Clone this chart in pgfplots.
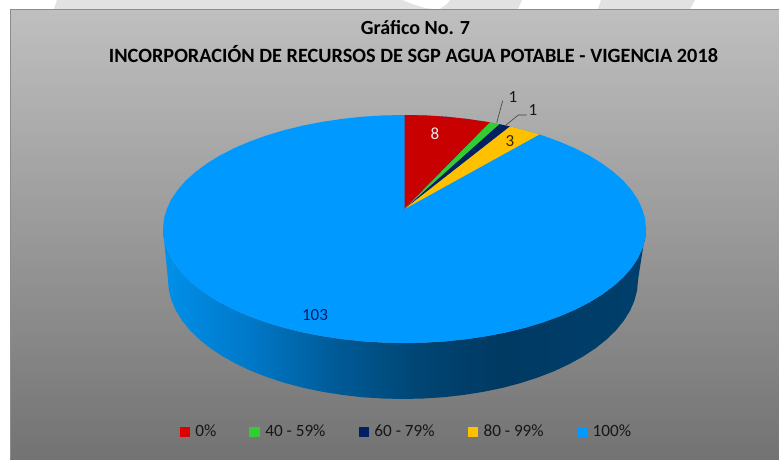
\documentclass[border=0pt]{standalone}
\usepackage{pgfplots}
\pgfplotsset{compat=1.18}
\usepackage{fontspec}
\setmainfont{Carlito}

\definecolor{wm}{HTML}{E2E2E2}
\definecolor{pie0}{HTML}{C80000}
\definecolor{leg0}{HTML}{DC0000}
\definecolor{pie40}{HTML}{33CC33}
\definecolor{pie60}{HTML}{002060}
\definecolor{pie80}{HTML}{FFC000}
\definecolor{pie100}{HTML}{0099FF}
\definecolor{txt}{HTML}{161616}

% rim of the pie, 25bp..75bp is the width of the path
\pgfdeclarehorizontalshading{rim}{100bp}{
  rgb(0bp)=(0,0.565,0.918);
  rgb(25bp)=(0,0.565,0.918);
  rgb(34bp)=(0,0.47,0.784);
  rgb(43bp)=(0,0.353,0.588);
  rgb(52bp)=(0,0.267,0.447);
  rgb(60bp)=(0,0.227,0.388);
  rgb(75bp)=(0,0.247,0.424);
  rgb(100bp)=(0,0.247,0.424)}

\begin{document}
\begin{tikzpicture}
\begin{axis}[
    hide axis,
    scale only axis,
    width=779pt, height=459pt,
    xmin=0, xmax=779,
    ymin=0, ymax=459,
    y dir=reverse,
    legend columns=5,
    legend style={at={(axis cs:179.5,431.5)}, anchor=west, draw=none, fill=none,
      inner sep=0pt, outer sep=0pt, font=\fontsize{17.2pt}{20pt}\selectfont\color{txt},
      /tikz/every even column/.append style={column sep=31pt}},
    legend image code/.code={\fill[#1] (0pt,-4.7pt) rectangle (9.5pt,4.7pt);\path (13.5pt,0pt);},
]
% white page, so the picture keeps its full size
\addplot[forget plot, draw=none, fill=white] coordinates {(0,0) (779,0) (779,459) (0,459)} -- cycle;

% watermark behind the panel
\addplot[forget plot, draw=none, fill=wm] coordinates {
  (54,9) (57,0) (402,0) (415,5) (425,8) (433,9) (440,9) (447,4) (450,0) (522,0) (518,9)
} -- cycle;
\addplot[forget plot, draw=none, fill=wm] coordinates {(598,9) (601,0) (695,0) (690,9)} -- cycle;

% panel
\addplot[forget plot, draw=none, top color=black!25, bottom color=black!55] coordinates {
  (10,9) (779,9) (779,459) (10,459)
} -- cycle;
\addplot[forget plot, color=black!45, line width=1pt] coordinates {(10,459) (10,9) (779,9)};

% rim
\addplot[forget plot, draw=none, shading=rim] coordinates {
  (163,229) (163.9,238.9) (166.7,248.8) (171.2,258.5) (177.6,268) (185.6,277.2) (195.4,286)
  (206.7,294.4) (219.5,302.3) (233.7,309.6) (249.3,316.3) (266,322.4) (283.7,327.7)
  (302.4,332.3) (321.9,336.1) (342,339.1) (362.6,341.3) (383.5,342.6) (404.5,343)
  (425.5,342.6) (446.4,341.3) (467,339.1) (487.1,336.1) (506.6,332.3) (525.3,327.7)
  (543,322.4) (559.7,316.3) (575.3,309.6) (589.5,302.3) (602.3,294.4) (613.6,286)
  (623.4,277.2) (631.4,268) (637.8,258.5) (642.3,248.8) (645.1,238.9) (646,229)
  (638,280) (637.1,290.4) (634.4,300.7) (630,310.8) (623.8,320.7) (616,330.3) (606.5,339.5)
  (595.5,348.3) (583,356.5) (569.2,364.1) (554.1,371.2) (537.8,377.5) (520.5,383.1)
  (502.3,387.9) (483.4,391.8) (463.8,394.9) (443.8,397.2) (423.5,398.5) (403,399)
  (382.5,398.5) (362.2,397.2) (342.2,394.9) (322.6,391.8) (303.7,387.9) (285.5,383.1)
  (268.2,377.5) (251.9,371.2) (236.8,364.1) (223,356.5) (210.5,348.3) (199.5,339.5)
  (190,330.3) (182.2,320.7) (176,310.8) (171.6,300.7) (168.9,290.4) (168,280)
} -- cycle;

% top face, 100% = 103
\addplot[forget plot, draw=none, fill=pie100] coordinates {
  (163,229) (163.9,238.9) (166.7,248.8) (171.2,258.5) (177.6,268) (185.6,277.2) (195.4,286)
  (206.7,294.4) (219.5,302.3) (233.7,309.6) (249.3,316.3) (266,322.4) (283.7,327.7)
  (302.4,332.3) (321.9,336.1) (342,339.1) (362.6,341.3) (383.5,342.6) (404.5,343)
  (425.5,342.6) (446.4,341.3) (467,339.1) (487.1,336.1) (506.6,332.3) (525.3,327.7)
  (543,322.4) (559.7,316.3) (575.3,309.6) (589.5,302.3) (602.3,294.4) (613.6,286)
  (623.4,277.2) (631.4,268) (637.8,258.5) (642.3,248.8) (645.1,238.9) (646,229)
  (645.1,219.1) (642.3,209.2) (637.8,199.5) (631.4,190) (623.4,180.8) (613.6,172)
  (602.3,163.6) (589.5,155.7) (575.3,148.4) (559.7,141.7) (543,135.6) (525.3,130.3)
  (506.6,125.7) (487.1,121.9) (467,118.9) (446.4,116.7) (425.5,115.4) (404.5,115)
  (383.5,115.4) (362.6,116.7) (342,118.9) (321.9,121.9) (302.4,125.7) (283.7,130.3)
  (266,135.6) (249.3,141.7) (233.7,148.4) (219.5,155.7) (206.7,163.6) (195.4,172)
  (185.6,180.8) (177.6,190) (171.2,199.5) (166.7,209.2) (163.9,219.1)
} -- cycle;
% 0% = 8
\addplot[forget plot, draw=none, fill=pie0] coordinates {
  (404.5,209) (404.5,115) (425.5,115.4) (446.4,116.7) (467,118.9) (490,122.3)
} -- cycle;
% 40-59% = 1
\addplot[forget plot, draw=none, fill=pie40] coordinates {(404.5,209) (490,122.3) (499.5,124.2)} -- cycle;
% 60-79% = 1
\addplot[forget plot, draw=none, fill=pie60] coordinates {(404.5,209) (499.5,124.2) (510,126.5)} -- cycle;
% 80-99% = 3
\addplot[forget plot, draw=none, fill=pie80] coordinates {
  (404.5,209) (510,126.5) (525.3,130.3) (539.3,134.5)
} -- cycle;

% leader lines
\addplot[forget plot, color=black!75, line width=0.6pt] coordinates {(502.7,100.7) (496.7,122.7)};
\addplot[forget plot, color=black!75, line width=0.6pt] coordinates {(526.7,115) (518.3,115) (506,125)};

\addlegendimage{leg0}\addlegendentry{0\%}
\addlegendimage{pie40}\addlegendentry{40 - 59\%}
\addlegendimage{pie60}\addlegendentry{60 - 79\%}
\addlegendimage{pie80}\addlegendentry{80 - 99\%}
\addlegendimage{pie100}\addlegendentry{100\%}

\node[font=\bfseries\fontsize{20pt}{24pt}\selectfont, text=black] at (axis cs:415.5,28) {Gráfico No. 7};
\node[font=\bfseries\fontsize{20.3pt}{24pt}\selectfont, text=black] at (axis cs:413.5,54) {INCORPORACIÓN DE RECURSOS DE SGP AGUA POTABLE - VIGENCIA 2018};

\node[font=\fontsize{17pt}{20pt}\selectfont, text=white!92!black] at (axis cs:435,134) {8};
\node[font=\fontsize{17pt}{20pt}\selectfont, text=black!80!pie80] at (axis cs:510,141) {3};
\node[font=\fontsize{17pt}{20pt}\selectfont, text=txt] at (axis cs:513,97) {1};
\node[font=\fontsize{17pt}{20pt}\selectfont, text=txt] at (axis cs:533,110) {1};
\node[font=\fontsize{17pt}{20pt}\selectfont, text=pie60] at (axis cs:315,315) {103};
\end{axis}
\end{tikzpicture}
\end{document}
